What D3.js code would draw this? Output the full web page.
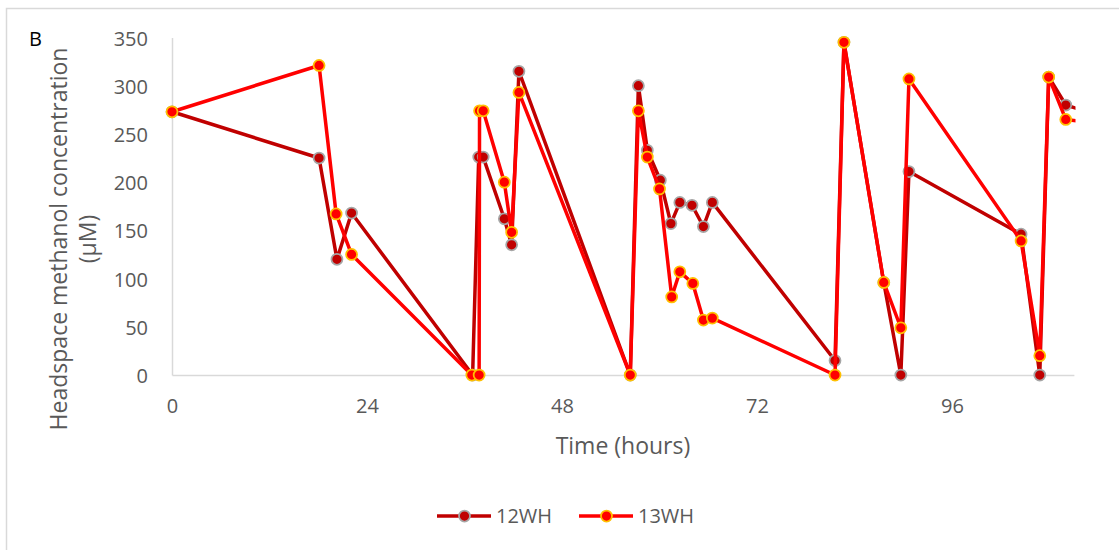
<!DOCTYPE html>
<html>
<head>
<meta charset="utf-8">
<script src="https://cdn.jsdelivr.net/npm/d3@7"></script>
<style>
  body { margin: 0; background: #fff; }
  svg { display: block; font-family: "Open Sans", sans-serif; }
</style>
</head>
<body>
<svg id="chart" width="1119" height="550"></svg>
<script>
// Sampling times (hours) and headspace methanol (µM) for each culture
const hours12WH = [0, 18.1, 20.3, 22.1, 37.0, 37.75, 38.3, 40.9, 41.8, 42.7, 56.4, 57.4, 58.5, 60.1, 61.4, 62.5, 64.0, 65.4, 66.5, 81.6, 82.7, 87.6, 89.7, 90.7, 104.5, 106.8, 107.9, 110.0, 113.0];
const conc12WH  = [273, 225, 120, 168, 0, 226, 226, 162, 135, 315, 0, 300, 233, 202, 157, 179, 176, 154, 179, 15, 345, 96, 0, 211, 146, 0, 309, 280, 272];

const hours13WH = [0, 18.1, 20.2, 22.1, 36.9, 37.8, 37.85, 38.3, 40.9, 41.8, 42.7, 56.4, 57.4, 58.5, 60.0, 61.5, 62.5, 64.1, 65.4, 66.5, 81.6, 82.7, 87.6, 89.7, 90.7, 104.5, 106.8, 107.9, 110.0, 113.0];
const conc13WH  = [273, 321, 167, 125, 0, 0, 274, 274, 200, 148, 293, 0, 274, 226, 193, 81, 107, 95, 57, 59, 0, 345, 96, 49, 307, 139, 20, 309, 265, 262];

const seriesNames = ["12WH", "13WH"];
const xTickValues = [0, 24, 48, 72, 96];
const yTickValues = [0, 50, 100, 150, 200, 250, 300, 350];
const xTitle = "Time (hours)";
const yTitleLines = ["Headspace methanol concentration", "(µM)"];
const panelLabel = "B";

const styles = {
  "12WH": { line: "#C00000", fill: "#C00000", edge: "#A6A6A6" },
  "13WH": { line: "#FF0000", fill: "#FF0000", edge: "#FFC000" }
};

const series = [
  { name: seriesNames[0], points: hours12WH.map((t, i) => ({ t, v: conc12WH[i] })) },
  { name: seriesNames[1], points: hours13WH.map((t, i) => ({ t, v: conc13WH[i] })) }
];

const svg = d3.select("#chart");
const textColor = "#595959";
const axisColor = "#D9D9D9";

// Chart frame
svg.append("rect")
  .attr("x", 6.5).attr("y", 8.5)
  .attr("width", 1300).attr("height", 700)
  .attr("fill", "none").attr("stroke", axisColor).attr("stroke-width", 1.5);

const plot = { left: 172, right: 1073.9, top: 37.5, bottom: 375 };

const x = d3.scaleLinear().domain([0, 111]).range([plot.left, plot.right]);
const y = d3.scaleLinear().domain([0, 350]).range([plot.bottom, plot.top]);

// Axes
const yAxis = svg.append("g")
  .attr("transform", `translate(${plot.left},0)`)
  .call(d3.axisLeft(y).tickValues(yTickValues).tickSize(0).tickPadding(24).tickSizeOuter(0));
const xAxis = svg.append("g")
  .attr("transform", `translate(0,${plot.bottom})`)
  .call(d3.axisBottom(x).tickValues(xTickValues).tickSize(0).tickPadding(24).tickSizeOuter(0));

[xAxis, yAxis].forEach(g => {
  g.select(".domain").attr("stroke", axisColor).attr("stroke-width", 1.5);
  g.selectAll("text").attr("fill", textColor).style("font-size", "20px")
    .style("font-family", "'Open Sans', sans-serif");
});
yAxis.selectAll("text").attr("dy", "0.38em");

// Axis titles
svg.append("text")
  .attr("x", (plot.left + plot.right) / 2).attr("y", 454)
  .attr("text-anchor", "middle").attr("fill", textColor)
  .style("font-size", "23px").text(xTitle);

const yTitle = svg.append("text")
  .attr("transform", "translate(0,239) rotate(-90)")
  .attr("text-anchor", "middle").attr("fill", textColor)
  .style("font-size", "23px");
yTitle.append("tspan").attr("x", 0).attr("y", 67).text(yTitleLines[0]);
yTitle.append("tspan").attr("x", 0).attr("y", 96).text(yTitleLines[1]);

// Panel letter
svg.append("text").attr("x", 29).attr("y", 46)
  .attr("fill", "#000").style("font-size", "20px").text(panelLabel);

// Series lines and markers, clipped to the plot area
svg.append("clipPath").attr("id", "plot-clip")
  .append("rect")
  .attr("x", plot.left - 10).attr("y", 0)
  .attr("width", 1075.5 - (plot.left - 10)).attr("height", 420);

const lineGen = d3.line().x(d => x(d.t)).y(d => y(d.v));
const layer = svg.append("g").attr("clip-path", "url(#plot-clip)");

series.forEach(s => {
  const st = styles[s.name];
  const g = layer.append("g");
  g.append("path")
    .datum(s.points)
    .attr("d", lineGen)
    .attr("fill", "none")
    .attr("stroke", st.line)
    .attr("stroke-width", 3.5)
    .attr("stroke-linejoin", "round");
  g.selectAll("circle")
    .data(s.points)
    .join("circle")
    .attr("cx", d => x(d.t))
    .attr("cy", d => y(d.v))
    .attr("r", 5.5)
    .attr("fill", st.fill)
    .attr("stroke", st.edge)
    .attr("stroke-width", 1.75);
});

// Legend
const legendItems = [
  { name: seriesNames[0], x0: 437 },
  { name: seriesNames[1], x0: 579 }
];
const legendY = 516;
legendItems.forEach(item => {
  const st = styles[item.name];
  const g = svg.append("g").attr("transform", `translate(${item.x0},${legendY})`);
  g.append("line").attr("x1", 0).attr("x2", 54).attr("y1", 0).attr("y2", 0)
    .attr("stroke", st.line).attr("stroke-width", 3.5);
  g.append("circle").attr("cx", 27.5).attr("cy", 0).attr("r", 5.5)
    .attr("fill", st.fill).attr("stroke", st.edge).attr("stroke-width", 1.75);
  g.append("text").attr("x", 59).attr("y", 0).attr("dy", "0.36em")
    .attr("fill", textColor).style("font-size", "20px").text(item.name);
});
</script>
</body>
</html>
